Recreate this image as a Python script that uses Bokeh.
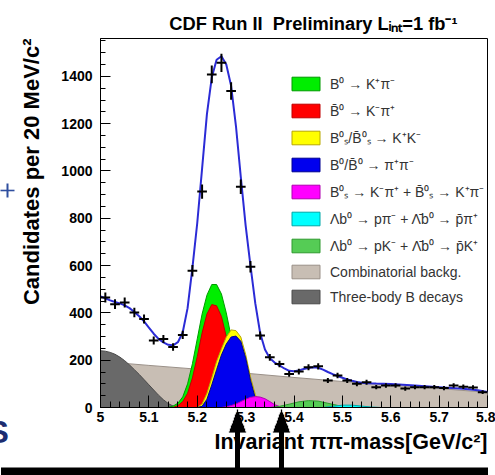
import math
from bokeh.plotting import figure
from bokeh.models import (FixedTicker, CustomJSTickFormatter, Legend, LegendItem,
                          Title, Grid)
from bokeh.embed import file_html
from bokeh.resources import INLINE

# ---------------- data ----------------
bin_centers = [5.01, 5.03, 5.05, 5.07, 5.09, 5.11, 5.13, 5.15, 5.17, 5.19,
               5.21, 5.23, 5.25, 5.27, 5.29, 5.31, 5.33, 5.35, 5.37, 5.39,
               5.41, 5.43, 5.45, 5.47, 5.49, 5.51, 5.53, 5.55, 5.57, 5.59,
               5.61, 5.63, 5.65, 5.67, 5.69, 5.71, 5.73, 5.75, 5.77, 5.79]
counts = [465, 437, 444, 402, 374, 283, 290, 256, 307, 578,
          913, 1408, 1457, 1338, 933, 595, 304, 212, 184, 142,
          152, 170, 174, 114, 135, 114, 100, 107, 86, 93,
          93, 80, 86, 86, 86, 82, 93, 88, 85, 65]

total_x = [5.00, 5.01, 5.02, 5.03, 5.04, 5.05, 5.06, 5.07, 5.08, 5.09,
           5.10, 5.11, 5.12, 5.13, 5.14, 5.15, 5.16, 5.17, 5.18, 5.19,
           5.20, 5.21, 5.22, 5.23, 5.24, 5.25, 5.26, 5.27, 5.28, 5.29,
           5.30, 5.31, 5.32, 5.33, 5.34, 5.35, 5.36, 5.37, 5.38, 5.39,
           5.40, 5.41, 5.42, 5.43, 5.44, 5.45, 5.46, 5.47, 5.48, 5.49,
           5.50, 5.51, 5.52, 5.53, 5.54, 5.55, 5.57, 5.60, 5.65, 5.70,
           5.75, 5.78, 5.80]
total_y = [470, 462, 453, 446, 440, 432, 420, 404, 386, 364,
           338, 312, 290, 275, 265, 263, 276, 318, 420, 590,
           780, 1010, 1240, 1395, 1470, 1485, 1450, 1360, 1190, 975,
           770, 600, 440, 315, 245, 208, 190, 178, 165, 155,
           153, 157, 163, 167, 170, 168, 160, 150, 141, 133,
           126, 119, 113, 108, 105, 103, 101, 99, 93, 86,
           79, 73, 66]

comb_x = [5.0, 5.1, 5.2, 5.3, 5.4, 5.5, 5.6, 5.7, 5.8]
comb_y = [195, 178, 162, 145, 127, 110, 95, 80, 64]

threebody_x = [5.00, 5.01, 5.02, 5.03, 5.04, 5.05, 5.06, 5.07, 5.08, 5.09,
               5.10, 5.11, 5.12, 5.13, 5.14, 5.15, 5.16]
threebody_y = [240, 238, 233, 225, 213, 198, 180, 160, 140, 118,
               96, 74, 52, 33, 17, 6, 0]

b0_kpi_x = [5.14, 5.15, 5.16, 5.17, 5.18, 5.19, 5.20, 5.21, 5.22, 5.23,
            5.24, 5.25, 5.26, 5.27, 5.28, 5.29, 5.30, 5.31, 5.32, 5.33]
b0_kpi_y = [0, 6, 18, 45, 100, 185, 290, 395, 475, 520,
            520, 480, 400, 300, 200, 120, 60, 25, 8, 0]

b0bar_kpi_x = [5.15, 5.16, 5.17, 5.18, 5.19, 5.20, 5.21, 5.22, 5.23, 5.24,
               5.25, 5.26, 5.27, 5.28, 5.29, 5.30, 5.31, 5.32]
b0bar_kpi_y = [0, 8, 25, 60, 125, 215, 315, 395, 435, 430,
               385, 300, 205, 125, 65, 28, 10, 0]

bs_kk_x = [5.20, 5.21, 5.22, 5.23, 5.24, 5.25, 5.26, 5.27, 5.28, 5.29,
           5.30, 5.31, 5.32, 5.33, 5.34]
bs_kk_y = [0, 15, 60, 125, 195, 248, 298, 328, 325, 298,
           225, 130, 55, 5, 0]

b_pipi_x = [5.20, 5.21, 5.22, 5.23, 5.24, 5.25, 5.26, 5.27, 5.28, 5.29,
            5.30, 5.31, 5.32, 5.33, 5.34]
b_pipi_y = [0, 5, 35, 95, 160, 222, 268, 298, 302, 280,
            210, 115, 40, 2, 0]

bs_kpi_x = [5.25, 5.26, 5.27, 5.28, 5.29, 5.30, 5.31, 5.32, 5.33, 5.34,
            5.35, 5.36, 5.37, 5.38]
bs_kpi_y = [0, 3, 8, 15, 25, 35, 43, 46, 44, 37, 25, 12, 4, 0]

lb_pk_x = [5.35, 5.37, 5.39, 5.41, 5.43, 5.45, 5.47, 5.49, 5.51, 5.53]
lb_pk_y = [0, 5, 14, 24, 29, 27, 18, 9, 3, 0]

lb_ppi_x = [5.46, 5.48, 5.50, 5.52, 5.54, 5.56, 5.58]
lb_ppi_y = [0, 5, 10, 10, 6, 2, 0]

x_ticks = [5.0, 5.1, 5.2, 5.3, 5.4, 5.5, 5.6, 5.7, 5.8]
y_ticks = [0, 200, 400, 600, 800, 1000, 1200, 1400]

legend_labels = [
    "B\u2070 \u2192 K\u207a\u03c0\u207b",
    "B\u0304\u2070 \u2192 K\u207b\u03c0\u207a",
    "B\u2070\u209b/B\u0304\u2070\u209b \u2192 K\u207aK\u207b",
    "B\u2070/B\u0304\u2070 \u2192 \u03c0\u207a\u03c0\u207b",
    "B\u2070\u209b \u2192 K\u207b\u03c0\u207a + B\u0304\u2070\u209b \u2192 K\u207a\u03c0\u207b",
    "\u039bb\u2070 \u2192 p\u03c0\u207b + \u039b\u0304b\u2070 \u2192 p\u0304\u03c0\u207a",
    "\u039bb\u2070 \u2192 pK\u207b + \u039b\u0304b\u2070 \u2192 p\u0304K\u207a",
    "Combinatorial backg.",
    "Three-body B decays",
]

title_text = "CDF Run II\u00a0 Preliminary L\u1d62\u2099\u209c=1 fb\u207b\u00b9"
y_title = "Candidates per 20 MeV/c\u00b2"
x_title = "Invariant \u03c0\u03c0-mass[GeV/c\u00b2]"

# ---------------- layout ----------------
W, H = 495, 475
FL, FR, FT, FB = 100, 487, 38, 407
X0, X1 = 5.0, 5.8
Y0, Y1 = 0, 1560

def dx(px):
    return X0 + (px - FL) * (X1 - X0) / (FR - FL)

def dy(py):
    return Y0 + (FB - py) * (Y1 - Y0) / (FB - FT)

FONT = "Liberation Sans"

p = figure(width=W, height=H, x_range=(X0, X1), y_range=(Y0, Y1),
           output_backend="svg", toolbar_location=None,
           min_border_left=FL, min_border_right=W - FR,
           min_border_top=FT, min_border_bottom=H - FB)
p.title.text = title_text
p.title.align = "right"
p.title.offset = 30
p.title.text_font = FONT
p.title.text_font_style = "bold"
p.title.text_font_size = "18.3px"
p.title.text_color = "black"
p.title.standoff = 10

p.xgrid.visible = False
p.ygrid.visible = False
p.outline_line_color = "black"
p.outline_line_width = 1
p.background_fill_color = "white"
p.border_fill_color = "white"

# axes
p.xaxis.ticker = FixedTicker(ticks=x_ticks,
                             minor_ticks=[round(X0 + 0.02 * i, 2) for i in range(41)])
p.xaxis.formatter = CustomJSTickFormatter(code="return tick.toFixed(1).replace(/\\.0$/, '');")
p.yaxis.ticker = FixedTicker(ticks=y_ticks, minor_ticks=[50 * i for i in range(32)])
for ax, mj, mn in ((p.xaxis, 12, 6), (p.yaxis, 10, 5)):
    ax.major_tick_in = mj
    ax.major_tick_out = 0
    ax.minor_tick_in = mn
    ax.minor_tick_out = 0
    ax.axis_line_color = "black"
    ax.major_tick_line_color = "black"
    ax.minor_tick_line_color = "black"
    ax.major_label_text_font = FONT
    ax.major_label_text_font_style = "bold"
    ax.major_label_text_font_size = "14px"
    ax.major_label_text_color = "black"
p.xaxis.major_label_standoff = 4
p.yaxis.major_label_standoff = 8

# axis titles as side-panel titles (aligned to the top / right ends like ROOT)
p.add_layout(Title(text=y_title, align="right", vertical_align="middle", text_font=FONT,
                   text_font_style="bold", text_font_size="22px", text_color="black",
                   standoff=28), "left")
x_title_obj = Title(text=x_title, align="right", vertical_align="top", text_font=FONT,
                    text_font_style="bold", text_font_size="21.5px", text_color="black",
                    standoff=-17)
# cut-off blue "S" of the slide at the lower left, in a small panel below the axis
s_title = Title(text="S", align="left", vertical_align="middle", offset=-113,
                text_font=FONT, text_font_size="32px", text_color="#1c2c70", standoff=-24)
p.below = [p.xaxis[0], s_title, x_title_obj]

# ---------------- components (filled areas drawn from zero) ----------------
def closed(xs, ys):
    return [xs[0]] + list(xs) + [xs[-1]], [0] + list(ys) + [0]

comps = [
    (comb_x, comb_y, "#c8beb4", "#9a9088"),
    (threebody_x, threebody_y, "#696969", "#4a4a4a"),
    (b0_kpi_x, b0_kpi_y, "#00ee00", "#009a00"),
    (b0bar_kpi_x, b0bar_kpi_y, "#ff0000", "#c00000"),
    (bs_kk_x, bs_kk_y, "#ffff00", "#b8a800"),
    (b_pipi_x, b_pipi_y, "#0000ee", "#000090"),
    (bs_kpi_x, bs_kpi_y, "#ff00ff", "#b000b0"),
    (lb_pk_x, lb_pk_y, "#55cc55", "#2f9a2f"),
    (lb_ppi_x, lb_ppi_y, "#00ffff", "#00a8a8"),
]
rends = []
for xs, ys, fc, lc in comps:
    cx, cy = closed(xs, ys)
    rends.append(p.patch(cx, cy, fill_color=fc, line_color=lc, line_width=1))

# total fit curve
p.line(total_x, total_y, line_color="#2b2bd6", line_width=2)

# data points with error bars
ex = [c - 0.01 for c in bin_centers]
ex2 = [c + 0.01 for c in bin_centers]
elo = [n - math.sqrt(n) for n in counts]
ehi = [n + math.sqrt(n) for n in counts]
p.segment(ex, counts, ex2, counts, line_color="black", line_width=2)
p.segment(bin_centers, elo, bin_centers, ehi, line_color="black", line_width=2)

# ---------------- legend ----------------
order = [2, 3, 4, 5, 6, 8, 7, 0, 1]
items = [LegendItem(label=legend_labels[i], renderers=[rends[j]])
         for i, j in enumerate(order)]
legend = Legend(items=items, location=(188, 102), glyph_width=35, glyph_height=17,
                label_height=17, spacing=8, padding=0, margin=0, label_standoff=7,
                label_text_font=FONT, label_text_font_size="14px",
                label_text_color="#333333", border_line_alpha=0,
                background_fill_alpha=0)
p.add_layout(legend)

# ---------------- slide decorations around the chart ----------------
# strokes drawn as unclipped grid lines at window pixel positions
def vstroke(xs_px, top_px, bot_px, width, color="black"):
    try:
        p.add_layout(Grid(dimension=0, ticker=FixedTicker(ticks=[dx(v) for v in xs_px]),
                          cross_bounds=(dy(bot_px), dy(top_px)), grid_line_color=color,
                          grid_line_width=width, level="annotation"))
    except Exception:
        pass

def hstroke(y_px, left_px, right_px, width, color="black"):
    try:
        p.add_layout(Grid(dimension=1, ticker=FixedTicker(ticks=[dy(y_px)]),
                          cross_bounds=(dx(left_px), dx(right_px)), grid_line_color=color,
                          grid_line_width=width, level="annotation"))
    except Exception:
        pass

# black arrows (shaft + stepped head) and the bar at the bottom of the slide
ARROW_PX = [237, 281]
vstroke(ARROW_PX, 430, 468, 5)
for k in range(0, 9):
    top = 409 + k * 23.0 / 8.5
    vstroke([a - k for a in ARROW_PX] + [a + k for a in ARROW_PX], top, 432, 1.3)
vstroke([243.5], 467, 475, 487)

# blue "+" at the left edge of the slide
hstroke(190, 0, 14, 1.6, "#2f4f9f")
hstroke(190, 6.2, 7.8, 14, "#2f4f9f")

open("out.html", "w").write(file_html(p, INLINE))
